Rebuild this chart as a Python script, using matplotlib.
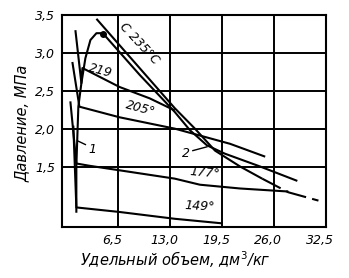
import numpy as np
import matplotlib
matplotlib.use("Agg")
import matplotlib.pyplot as plt
from matplotlib.transforms import ScaledTranslation

# values (v in dm3/kg, p in MPa)
bubble_v = [1.28, 1.28, 1.53, 1.91, 2.41, 3.04, 3.79, 4.67]
bubble_p = [0.89, 1.51, 2.29, 2.60, 2.93, 3.17, 3.26, 3.26]

dew_v = [4.67, 9.20, 13.59, 15.48, 17.61, 19.85, 24.27, 28.92]
dew_p = [3.25, 2.71, 2.22, 1.98, 1.78, 1.67, 1.50, 1.31]

crit_v = [3.79, 13.59, 16.11, 18.62, 21.76, 24.52]
crit_p = [3.45, 2.27, 2.00, 1.71, 1.50, 1.34]
crit_dash_v = [24.52, 27.79, 31.56]
crit_dash_p = [1.34, 1.16, 1.05]

t219_v = [1.16, 1.91, 2.04, 6.68, 10.45, 13.59]
t219_p = [3.30, 2.60, 2.80, 2.55, 2.40, 2.24]

t205_v = [0.78, 1.66, 6.68, 13.59, 20.50, 24.90]
t205_p = [2.88, 2.29, 2.15, 2.00, 1.80, 1.63]

t177_v = [0.53, 1.28, 2.91, 7.94, 13.59, 16.73, 21.76, 27.79]
t177_p = [2.36, 1.54, 1.51, 1.43, 1.34, 1.26, 1.21, 1.17]

t149_v = [0.90, 1.28, 6.68, 13.59, 19.50]
t149_p = [2.04, 0.96, 0.90, 0.81, 0.75]

crit_point = (4.67, 3.25)

xticks = [6.5, 13.0, 19.5, 26.0, 32.5]
xtick_labels = ["6,5", "13,0", "19,5", "26,0", "32,5"]
yticks = [1.5, 2.0, 2.5, 3.0, 3.5]
ytick_labels = ["1,5", "2,0", "2,5", "3,0", "3,5"]

fig = plt.figure(figsize=(3.49, 2.78), dpi=100)
ax = fig.add_axes([0.178, 0.183, 0.756, 0.763])

lw = 1.5
k = dict(color="black", lw=lw, solid_capstyle="butt")
ax.plot(bubble_v, bubble_p, **k)
ax.plot(dew_v, dew_p, **k)
ax.plot(crit_v, crit_p, **k)
ax.plot(crit_dash_v, crit_dash_p, color="black", lw=lw, dashes=(10, 3))
for v, p in [(t219_v, t219_p), (t205_v, t205_p), (t177_v, t177_p), (t149_v, t149_p)]:
    ax.plot(v, p, **k)
ax.plot(*crit_point, "o", color="black", ms=4)

# leaders for curve numbers
ax.plot([2.41, 1.41], [1.79, 1.84], color="black", lw=1.0)
ax.plot([15.85, 17.61], [1.71, 1.76], color="black", lw=1.0)

tf = dict(fontsize=9, style="italic", ha="center", va="center", rotation_mode="anchor")
ax.text(9.2, 3.13, "C 235°C", rotation=-47, **tf)
ax.text(4.3, 2.77, "219", rotation=-15, **tf)
ax.text(9.33, 2.27, "205°", rotation=-15, **tf)
ax.text(17.36, 1.42, "177°", rotation=-5, **tf)
ax.text(16.73, 0.97, "149°", rotation=-3, **tf)
ax.text(3.3, 1.72, "1", **tf)
ax.text(14.97, 1.67, "2", **tf)

ax.set_xlim(-0.5, 32.5)
ax.set_ylim(0.7, 3.5)
ax.set_xticks(xticks)
ax.set_xticklabels(xtick_labels, style="italic", fontsize=9)
ax.set_yticks(yticks)
ax.set_yticklabels(ytick_labels, style="italic", fontsize=9)
ax.tick_params(length=0, pad=5)
for lab in ax.get_xticklabels():
    lab.set_transform(lab.get_transform() + ScaledTranslation(-0.06, 0, fig.dpi_scale_trans))
ax.grid(True, color="black", lw=1.4)
for s in ax.spines.values():
    s.set_linewidth(1.5)

fig.text(175 / 349, 1 - 260 / 278, "Удельный объем, дм$^3$/кг", style="italic",
         fontsize=10.5, ha="center", va="center")
fig.text(22 / 349, 1 - 123 / 278, "Давление, МПа", style="italic", rotation=90,
         fontsize=10.5, ha="center", va="center")

fig.savefig("out.png", dpi=100)
